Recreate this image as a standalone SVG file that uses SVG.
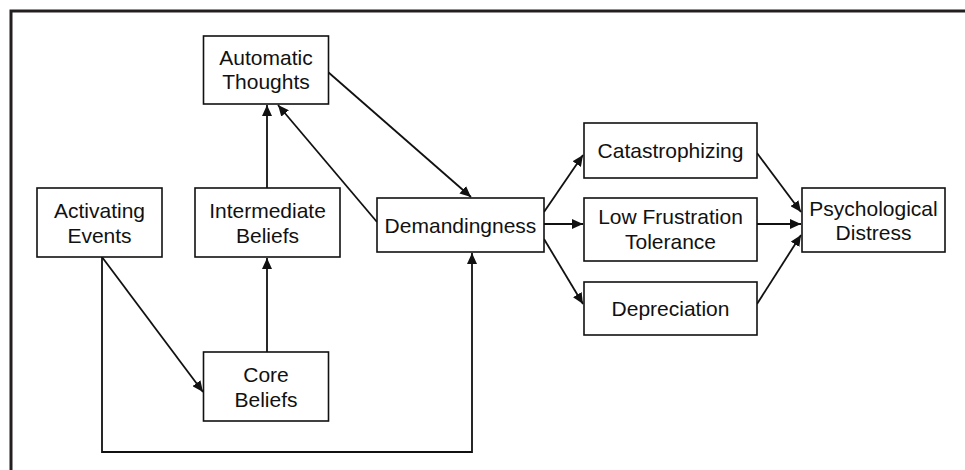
<svg xmlns="http://www.w3.org/2000/svg" width="965" height="470" viewBox="0 0 965 470">
<defs>
<style>
.box{fill:#fff;stroke:#111;stroke-width:1.6}
.t{font-family:"Liberation Sans",Arial,sans-serif;font-size:21px;fill:#111;text-anchor:middle}
.c{fill:none;stroke:#111;stroke-width:1.8}
.frame{fill:none;stroke:#231f20;stroke-width:3}
</style>
<marker id="ah" markerUnits="userSpaceOnUse" markerWidth="12" markerHeight="10" refX="11" refY="5" orient="auto">
<path d="M0,0 L11,5 L0,10 z" fill="#111"/>
</marker>
</defs>
<rect width="965" height="470" fill="#fff"/>
<path class="frame" d="M11,470 V11 H965"/>
<g id="connectors">
<line class="c" x1="267" y1="188" x2="267" y2="105" marker-end="url(#ah)"/>
<line class="c" x1="377" y1="222" x2="278" y2="105" marker-end="url(#ah)"/>
<line class="c" x1="328" y1="72" x2="471" y2="197" marker-end="url(#ah)"/>
<line class="c" x1="102" y1="257" x2="203" y2="392" marker-end="url(#ah)"/>
<line class="c" x1="267" y1="352" x2="267" y2="258" marker-end="url(#ah)"/>
<path class="c" d="M102,257 V452 H472 V253" marker-end="url(#ah)"/>
<line class="c" x1="544" y1="212" x2="583" y2="155" marker-end="url(#ah)"/>
<line class="c" x1="544" y1="224" x2="583" y2="224" marker-end="url(#ah)"/>
<line class="c" x1="544" y1="239" x2="583" y2="304" marker-end="url(#ah)"/>
<line class="c" x1="757" y1="153" x2="801" y2="212" marker-end="url(#ah)"/>
<line class="c" x1="757" y1="224" x2="801" y2="224" marker-end="url(#ah)"/>
<line class="c" x1="757" y1="304" x2="801" y2="235" marker-end="url(#ah)"/>
</g>
<g id="automatic-thoughts">
<rect class="box" x="203.5" y="36" width="125" height="68"/>
<text class="t" x="266" y="64.5">Automatic</text>
<text class="t" x="266" y="89">Thoughts</text>
</g>
<g id="activating-events">
<rect class="box" x="37" y="188" width="125" height="69"/>
<text class="t" x="99.5" y="218">Activating</text>
<text class="t" x="99.5" y="242.5">Events</text>
</g>
<g id="intermediate-beliefs">
<rect class="box" x="195" y="188" width="145" height="69"/>
<text class="t" x="267.5" y="218">Intermediate</text>
<text class="t" x="267.5" y="242.5">Beliefs</text>
</g>
<g id="core-beliefs">
<rect class="box" x="203.5" y="352" width="125" height="69"/>
<text class="t" x="266" y="382">Core</text>
<text class="t" x="266" y="406.5">Beliefs</text>
</g>
<g id="demandingness">
<rect class="box" x="377" y="198" width="167" height="54"/>
<text class="t" x="460.5" y="232.5">Demandingness</text>
</g>
<g id="catastrophizing">
<rect class="box" x="584" y="123" width="173" height="55"/>
<text class="t" x="670.5" y="158">Catastrophizing</text>
</g>
<g id="low-frustration-tolerance">
<rect class="box" x="584" y="198" width="173" height="63"/>
<text class="t" x="670.5" y="223.5">Low Frustration</text>
<text class="t" x="670.5" y="248.5">Tolerance</text>
</g>
<g id="depreciation">
<rect class="box" x="584" y="282" width="173" height="53"/>
<text class="t" x="670.5" y="316">Depreciation</text>
</g>
<g id="psychological-distress">
<rect class="box" x="802" y="188" width="143" height="64"/>
<text class="t" x="873.5" y="215.5">Psychological</text>
<text class="t" x="873.5" y="239.5">Distress</text>
</g>
</svg>
